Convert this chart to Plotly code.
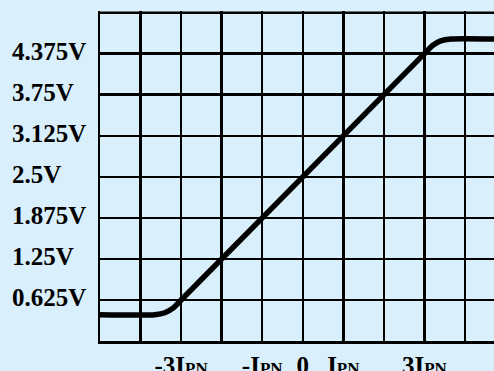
import plotly.graph_objects as go

# Transfer curve: output voltage vs primary current (in units of IPN)
curve_x = [-5.0, -3.65, -3.4, -3.2, -3.0, 3.0, 3.2, 3.4, 3.65, 4.72]
curve_v = [0.40, 0.40, 0.43, 0.50, 0.625, 4.375, 4.50, 4.57, 4.60, 4.60]

y_tick_vals = [0.625, 1.25, 1.875, 2.5, 3.125, 3.75, 4.375]
y_tick_text = ["0.625V", "1.25V", "1.875V", "2.5V", "3.125V", "3.75V", "4.375V"]
y_top = 5.0

x_tick_vals = [-3, -1, 0, 1, 3]
x_tick_text = ["-3I<span style='font-size:17px'>PN</span>",
               "-I<span style='font-size:17px'>PN</span>",
               "0",
               "I<span style='font-size:17px'>PN</span>",
               "3I<span style='font-size:17px'>PN</span>"]

BG = "#d9effc"
FONT = "Liberation Serif"

fig = go.Figure()
fig.add_trace(go.Scatter(
    x=curve_x, y=curve_v, mode="lines",
    line=dict(color="black", width=5.5, shape="spline", smoothing=0.6),
    hoverinfo="skip", showlegend=False,
))

fig.update_layout(
    template="none",
    width=494, height=371,
    margin=dict(l=100, r=0, t=11, b=30, autoexpand=False),
    paper_bgcolor=BG, plot_bgcolor=BG,
    showlegend=False,
)

fig.update_xaxes(
    range=[-5, 4.715], automargin=False,
    tickvals=x_tick_vals, ticktext=x_tick_text,
    tickfont=dict(family=FONT, size=25, color="black", weight="bold"),
    showgrid=True, gridcolor="black", gridwidth=2.5,
    minor=dict(dtick=1, tick0=0, showgrid=True, gridcolor="black", gridwidth=2.5, ticks=""),
    ticks="", showline=True, linecolor="black", linewidth=2.5,
    zeroline=False, fixedrange=True,
)

fig.update_yaxes(
    range=[0, 5.025], automargin=False,
    tickvals=[0] + y_tick_vals,
    showticklabels=False,
    showgrid=True, gridcolor="black", gridwidth=2.5,
    ticks="", showline=True, linecolor="black", linewidth=2.5,
    zeroline=False, fixedrange=True,
)

# top border of the grid
fig.add_shape(type="line", xref="paper", yref="y", x0=0, x1=1, y0=y_top, y1=y_top,
              line=dict(color="black", width=2.5), layer="below")

for v, t in zip(y_tick_vals, y_tick_text):
    fig.add_annotation(
        x=-0.229, xref="paper", y=v, yref="y", yshift=2,
        text=t, showarrow=False, xanchor="left", yanchor="middle",
        font=dict(family=FONT, size=25, color="black", weight="bold"),
    )

fig.write_html(
    "out.html",
    config={"displayModeBar": False, "staticPlot": True},
    post_script="document.body.style.margin='0';document.body.style.background='" + BG + "';",
)
